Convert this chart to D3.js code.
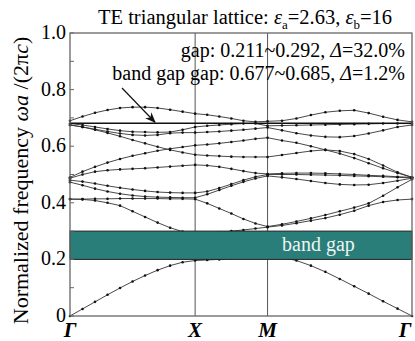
<!DOCTYPE html>
<html>
<head>
<meta charset="utf-8">
<script src="https://cdn.jsdelivr.net/npm/d3@7"></script>
<style>
  body { margin: 0; background: #fff; }
</style>
</head>
<body>
<svg id="chart" width="415" height="341" font-family="'Liberation Serif', 'DejaVu Serif', serif"></svg>
<script>
// high symmetry points along the path (units of 2pi/a) and samples per segment
const symPoints = [0, 0.577, 0.911, 1.577];
const symLabels = ['Γ', 'X', 'M', 'Γ'];
const segSteps = [10, 6, 10];

const yTicks = [0, 0.2, 0.4, 0.6, 0.8, 1.0];
const yTickLabels = ['0', '0.2', '0.4', '0.6', '0.8', '1.0'];
const yMinorTicks = [0.1, 0.3, 0.5, 0.7, 0.9];

const gapRange = [0.2, 0.3];      // shaded band gap
const smallGapLevel = 0.681;      // the narrow 0.677~0.685 gap

// bands, one value per k sample (Γ-X: 11, X-M: 6 more, M-Γ: 10 more)
const band1 = [0, 0.025, 0.05, 0.075, 0.099, 0.122, 0.143, 0.162, 0.178, 0.19, 0.196,
  0.198, 0.2, 0.203, 0.206, 0.209, 0.211,
  0.207, 0.196, 0.178, 0.156, 0.131, 0.105, 0.079, 0.052, 0.026, 0];
const band2 = [0.413, 0.412, 0.408, 0.4, 0.39, 0.37, 0.35, 0.33, 0.312, 0.298, 0.292,
  0.293, 0.296, 0.3, 0.304, 0.309, 0.314,
  0.32, 0.328, 0.337, 0.346, 0.358, 0.372, 0.39, 0.403, 0.41, 0.413];
const band3 = [0.413, 0.413, 0.414, 0.414, 0.415, 0.415, 0.415, 0.415, 0.414, 0.414, 0.413,
  0.398, 0.38, 0.362, 0.343, 0.327, 0.316,
  0.324, 0.334, 0.345, 0.357, 0.37, 0.383, 0.398, 0.425, 0.455, 0.483];
const band4 = [0.473, 0.462, 0.45, 0.44, 0.432, 0.426, 0.422, 0.42, 0.419, 0.418, 0.418,
  0.43, 0.445, 0.46, 0.474, 0.486, 0.495,
  0.49, 0.484, 0.477, 0.47, 0.465, 0.463, 0.464, 0.47, 0.478, 0.487];
const band5 = [0.48, 0.475, 0.468, 0.46, 0.453, 0.447, 0.442, 0.438, 0.436, 0.435, 0.435,
  0.44, 0.452, 0.466, 0.48, 0.492, 0.5,
  0.5, 0.5, 0.499, 0.498, 0.497, 0.495, 0.494, 0.492, 0.49, 0.488];
const band6 = [0.487, 0.5, 0.51, 0.515, 0.518, 0.52, 0.522, 0.525, 0.528, 0.531, 0.534,
  0.532, 0.527, 0.52, 0.512, 0.505, 0.502,
  0.504, 0.505, 0.505, 0.504, 0.502, 0.5, 0.497, 0.495, 0.492, 0.49];
const band7 = [0.49, 0.51, 0.527, 0.542, 0.555, 0.566, 0.575, 0.584, 0.591, 0.597, 0.603,
  0.606, 0.61, 0.615, 0.62, 0.626, 0.63,
  0.62, 0.612, 0.6, 0.587, 0.574, 0.558, 0.54, 0.522, 0.505, 0.49];
const band8 = [0.675, 0.668, 0.658, 0.647, 0.635, 0.622, 0.61, 0.598, 0.587, 0.578, 0.57,
  0.567, 0.565, 0.563, 0.562, 0.562, 0.562,
  0.569, 0.576, 0.583, 0.587, 0.583, 0.572, 0.555, 0.532, 0.508, 0.49];
const band9 = [0.675, 0.668, 0.66, 0.652, 0.645, 0.64, 0.638, 0.64, 0.646, 0.648, 0.648,
  0.65, 0.652, 0.655, 0.658, 0.662, 0.666,
  0.656, 0.646, 0.638, 0.633, 0.632, 0.636, 0.645, 0.656, 0.668, 0.675];
const band10 = [0.68, 0.675, 0.668, 0.661, 0.655, 0.651, 0.65, 0.649, 0.65, 0.658, 0.668,
  0.672, 0.675, 0.678, 0.68, 0.68, 0.672,
  0.673, 0.674, 0.675, 0.676, 0.677, 0.678, 0.679, 0.68, 0.68, 0.68];
const band11 = [0.69, 0.705, 0.718, 0.728, 0.735, 0.738, 0.738, 0.735, 0.729, 0.722, 0.715,
  0.711, 0.705, 0.698, 0.69, 0.686, 0.688,
  0.69, 0.698, 0.71, 0.72, 0.725, 0.727, 0.717, 0.704, 0.693, 0.686];
const bands = [band1, band2, band3, band4, band5, band6, band7, band8, band9, band10, band11];

// k sample positions along the path
const kGrid = [];
segSteps.forEach((n, s) => {
  for (let j = s === 0 ? 0 : 1; j <= n; j++) {
    kGrid.push(symPoints[s] + (symPoints[s + 1] - symPoints[s]) * j / n);
  }
});

const margin = { top: 33, right: 3, bottom: 25, left: 70 };
const svg = d3.select('#chart');
const W = +svg.attr('width'), H = +svg.attr('height');
const x = d3.scaleLinear().domain([0, symPoints[3]]).range([margin.left, W - margin.right]);
const y = d3.scaleLinear().domain([0, 1]).range([H - margin.bottom, margin.top]);

// vertical lines at X and M
svg.append('g').selectAll('line')
  .data(symPoints.slice(1, 3))
  .join('line')
  .attr('x1', d => x(d)).attr('x2', d => x(d))
  .attr('y1', y(0)).attr('y2', y(1))
  .attr('stroke', '#555').attr('stroke-width', 1);

// bands
const line = d3.line().x((d, i) => x(kGrid[i])).y(d => y(d));
const bandG = svg.append('g');
bandG.selectAll('path')
  .data(bands)
  .join('path')
  .attr('d', line)
  .attr('fill', 'none')
  .attr('stroke', '#333')
  .attr('stroke-width', 0.9);

bandG.selectAll('g.dots')
  .data(bands)
  .join('g').attr('class', 'dots')
  .selectAll('circle')
  .data(d => d)
  .join('circle')
  .attr('cx', (d, i) => x(kGrid[i]))
  .attr('cy', d => y(d))
  .attr('r', 1.3)
  .attr('fill', '#111');

// band gap box
svg.append('rect')
  .attr('x', x(0)).attr('width', x(symPoints[3]) - x(0))
  .attr('y', y(gapRange[1])).attr('height', y(gapRange[0]) - y(gapRange[1]))
  .attr('fill', '#2a7e79')
  .attr('stroke', '#222').attr('stroke-width', 1);

svg.append('text')
  .attr('x', 282).attr('y', y(0.25) + 6)
  .attr('font-size', 20)
  .attr('fill', '#eef4f2')
  .text('band gap');

// narrow gap marker line
svg.append('line')
  .attr('x1', x(0)).attr('x2', x(symPoints[3]))
  .attr('y1', y(smallGapLevel)).attr('y2', y(smallGapLevel))
  .attr('stroke', '#111').attr('stroke-width', 1.6);

// frame
svg.append('rect')
  .attr('x', x(0)).attr('y', y(1))
  .attr('width', x(symPoints[3]) - x(0)).attr('height', y(0) - y(1))
  .attr('fill', 'none').attr('stroke', '#666').attr('stroke-width', 1.3);

// y ticks (inward)
svg.append('g').selectAll('line')
  .data(yTicks.concat(yMinorTicks))
  .join('line')
  .attr('x1', x(0)).attr('x2', x(0) + 4)
  .attr('y1', d => y(d)).attr('y2', d => y(d))
  .attr('stroke', '#666').attr('stroke-width', 1);

svg.append('g').selectAll('text')
  .data(yTicks)
  .join('text')
  .attr('x', x(0) - 4)
  .attr('y', d => y(d) + 6)
  .attr('text-anchor', 'end')
  .attr('font-size', 20)
  .text((d, i) => yTickLabels[i]);

// x labels
svg.append('g').selectAll('text')
  .data(symPoints)
  .join('text')
  .attr('x', d => Math.min(x(d), W - 10))
  .attr('y', y(0) + 21)
  .attr('text-anchor', 'middle')
  .attr('font-size', 21)
  .attr('font-weight', 'bold')
  .attr('font-style', 'italic')
  .text((d, i) => symLabels[i]);

// y axis title
const yt = svg.append('text')
  .attr('transform', `translate(28,${(y(0) + y(1)) / 2 + 6}) rotate(-90)`)
  .attr('text-anchor', 'middle')
  .attr('font-size', 22);
yt.append('tspan').text('Normalized frequency ');
yt.append('tspan').attr('font-style', 'italic').text('ωa');
yt.append('tspan').text(' /(2π');
yt.append('tspan').attr('font-style', 'italic').text('c');
yt.append('tspan').text(')');

// title
const title = svg.append('text').attr('x', 98).attr('y', 24).attr('font-size', 20.5);
title.append('tspan').text('TE triangular lattice: ');
title.append('tspan').attr('font-style', 'italic').text('ε');
title.append('tspan').attr('font-size', 13).attr('dy', 5).text('a');
title.append('tspan').attr('dy', -5).text('=2.63, ');
title.append('tspan').attr('font-style', 'italic').text('ε');
title.append('tspan').attr('font-size', 13).attr('dy', 5).text('b');
title.append('tspan').attr('dy', -5).text('=16');

// gap annotations
const a1 = svg.append('text').attr('x', 405).attr('y', 57).attr('text-anchor', 'end').attr('font-size', 20);
a1.append('tspan').text('gap: 0.211~0.292, ');
a1.append('tspan').attr('font-style', 'italic').text('Δ');
a1.append('tspan').text('=32.0%');
const a2 = svg.append('text').attr('x', 405).attr('y', 80).attr('text-anchor', 'end').attr('font-size', 20);
a2.append('tspan').text('band gap gap: 0.677~0.685, ');
a2.append('tspan').attr('font-style', 'italic').text('Δ');
a2.append('tspan').text('=1.2%');

// arrow to the narrow gap
svg.append('defs').append('marker')
  .attr('id', 'arr').attr('viewBox', '0 0 10 10')
  .attr('refX', 9).attr('refY', 5)
  .attr('markerWidth', 9).attr('markerHeight', 9)
  .attr('orient', 'auto')
  .append('path').attr('d', 'M0,1 L10,5 L0,9 L3,5 Z').attr('fill', '#111');
svg.append('line')
  .attr('x1', 122).attr('y1', 88)
  .attr('x2', 155).attr('y2', y(smallGapLevel) - 1)
  .attr('stroke', '#111').attr('stroke-width', 1.2)
  .attr('marker-end', 'url(#arr)');
</script>
</body>
</html>
